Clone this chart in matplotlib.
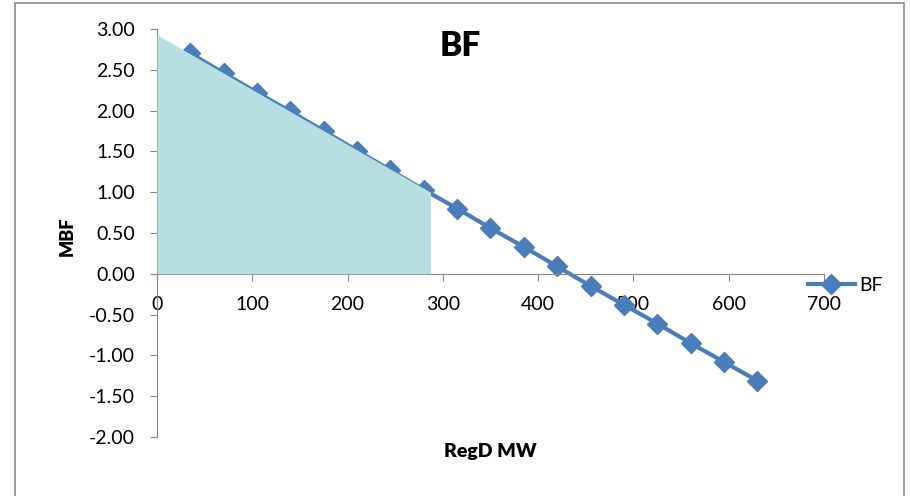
import matplotlib.pyplot as plt
from matplotlib.patches import Rectangle

# === Data ===
regd_mw = [35, 70, 105, 140, 175, 210, 245, 280, 315, 350, 385, 420,
           455, 490, 525, 560, 595, 630]
mbf = [2.70, 2.46, 2.22, 1.99, 1.75, 1.51, 1.27, 1.03, 0.80, 0.56, 0.33, 0.09,
       -0.15, -0.38, -0.61, -0.85, -1.08, -1.31]

# shaded area under the curve
shade_x = [0, 287]
shade_top = [2.93, 1.00]

x_ticks = [0, 100, 200, 300, 400, 500, 600, 700]
y_ticks = [-2.0, -1.5, -1.0, -0.5, 0.0, 0.5, 1.0, 1.5, 2.0, 2.5, 3.0]

blue = '#4A7EBB'
grey = '#868686'
plt.rcParams['font.family'] = ['Lato', 'DejaVu Sans']

fig = plt.figure(figsize=(9.10, 4.96), dpi=100)
ax = fig.add_axes([157 / 910, 1 - 437 / 496, 667 / 910, 408 / 496])

# chart border
fig.patches.append(Rectangle((15 / 910, -0.05), 889 / 910, 1.05 - 3 / 496,
                             transform=fig.transFigure, fill=False,
                             edgecolor='#8C8C8C', linewidth=1.2))

ax.plot(regd_mw, mbf, color=blue, linewidth=3, marker='D', markersize=10,
        label='BF', zorder=2)
ax.fill_between(shade_x, 0, shade_top, color='#B7DEE0', linewidth=0, zorder=3)

ax.set_xlim(0, 700)
ax.set_ylim(-2, 3)
ax.set_xticks(x_ticks)
ax.set_yticks(y_ticks)
ax.set_yticklabels([f'{v:.2f}' for v in y_ticks])

for s in ['top', 'right']:
    ax.spines[s].set_visible(False)
ax.spines['bottom'].set_position(('data', 0))
ax.spines['bottom'].set_color(grey)
ax.spines['left'].set_color(grey)
ax.tick_params(axis='x', direction='out', length=5, color=grey, pad=11,
               labelsize=14)
ax.tick_params(axis='y', direction='out', length=5, color=grey, pad=11,
               labelsize=14)

ax.legend(loc='center left', bbox_to_anchor=(0.976, 0.3725), frameon=False,
          fontsize=14, handlelength=2.4, handletextpad=0.25,
          borderaxespad=0, borderpad=0)

fig.text(460 / 910, 1 - 46 / 496, 'BF', fontsize=24, fontweight='heavy',
         ha='center', va='center')
fig.text(67 / 910, 1 - 236 / 496, 'MBF', fontsize=13, fontweight='heavy',
         rotation=90, ha='center', va='center')
fig.text(490 / 910, 1 - 452 / 496, 'RegD MW', fontsize=14, fontweight='heavy',
         ha='center', va='center')

plt.savefig('out.png', dpi=100)
plt.close()
